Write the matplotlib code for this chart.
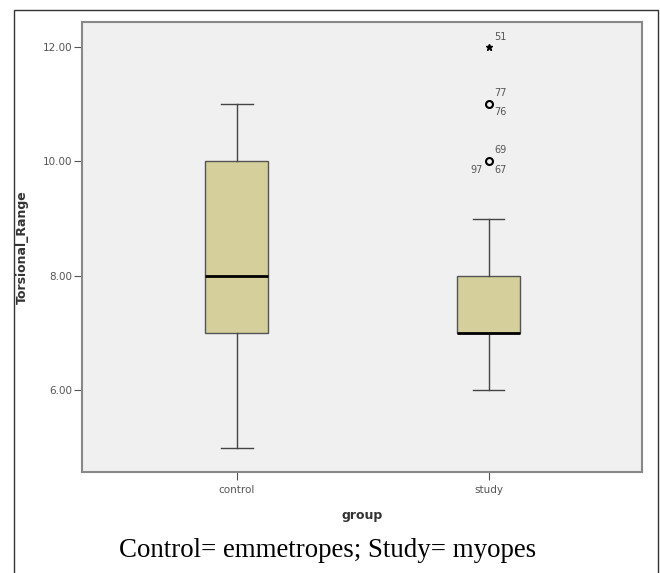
import matplotlib.pyplot as plt
from matplotlib.patches import Rectangle

groups = ["control", "study"]
# five-number summaries: whisker low, q1, median, q3, whisker high
whislo = [5.0, 6.0]
q1 = [7.0, 7.0]
med = [8.0, 7.0]
q3 = [10.0, 8.0]
whishi = [11.0, 9.0]

# outliers of the study group
out_vals = [10.0, 11.0]
out_labels = [["69", "97", "67"], ["77", "76"]]
extreme_vals = [12.0]
extreme_labels = ["51"]

fig = plt.figure(figsize=(6.6, 5.73), dpi=100)
ax = fig.add_axes([0.124, 0.176, 0.849, 0.786])
ax.set_facecolor("#f0f0f0")

stats = []
for i, g in enumerate(groups):
    stats.append(dict(label=g, whislo=whislo[i], q1=q1[i], med=med[i],
                      q3=q3[i], whishi=whishi[i], fliers=[]))

ax.bxp(stats, positions=[1, 2], widths=0.25, patch_artist=True,
       boxprops=dict(facecolor="#d4cf9b", edgecolor="#555555", linewidth=1),
       medianprops=dict(color="black", linewidth=2),
       whiskerprops=dict(color="#444444", linewidth=1),
       capprops=dict(color="#444444", linewidth=1),
       capwidths=0.125)

# outliers drawn at the study position
ax.plot([2] * len(out_vals), out_vals, "o", mfc="none", mec="black", ms=5, mew=1.5)
ax.plot([2] * len(extreme_vals), extreme_vals, "*", color="black", ms=5)

lbl = dict(fontsize=7, color="#555555")
ax.annotate(out_labels[0][0], (2, out_vals[0]), xytext=(4, 6), textcoords="offset points", **lbl)
ax.annotate(out_labels[0][1], (2, out_vals[0]), xytext=(-13, -8), textcoords="offset points", **lbl)
ax.annotate(out_labels[0][2], (2, out_vals[0]), xytext=(4, -8), textcoords="offset points", **lbl)
ax.annotate(out_labels[1][0], (2, out_vals[1]), xytext=(4, 6), textcoords="offset points", **lbl)
ax.annotate(out_labels[1][1], (2, out_vals[1]), xytext=(4, -8), textcoords="offset points", **lbl)
ax.annotate(extreme_labels[0], (2, extreme_vals[0]), xytext=(4, 5), textcoords="offset points", **lbl)

ax.set_xlim(0.384, 2.61)
ax.set_ylim(4.57, 12.44)
ax.set_yticks([6, 8, 10, 12])
ax.set_yticklabels(["6.00", "8.00", "10.00", "12.00"])
ax.set_xticks([1, 2])
ax.set_xticklabels(groups)
ax.tick_params(labelsize=7.5, labelcolor="#555555", color="#555555", length=6)
ax.tick_params(axis="y", pad=1)
for s in ax.spines.values():
    s.set_color("#888888")
    s.set_linewidth(1.5)

ax.set_xlabel("group", fontsize=9, fontweight="bold", color="#333333", labelpad=10)
ax.set_ylabel("Torsional_Range", fontsize=9, fontweight="bold", color="#333333", labelpad=10)

fig.text(0.497, 0.040, "Control= emmetropes; Study= myopes", ha="center", va="center",
         fontsize=19.4, family="Liberation Serif")

# outer frame around the figure
fig.patches.append(Rectangle((14 / 660, -0.01), 644 / 660, 1 - 10 / 573 + 0.01,
                             transform=fig.transFigure, fill=False,
                             edgecolor="#333333", linewidth=1))

fig.savefig("out.png", dpi=100)
